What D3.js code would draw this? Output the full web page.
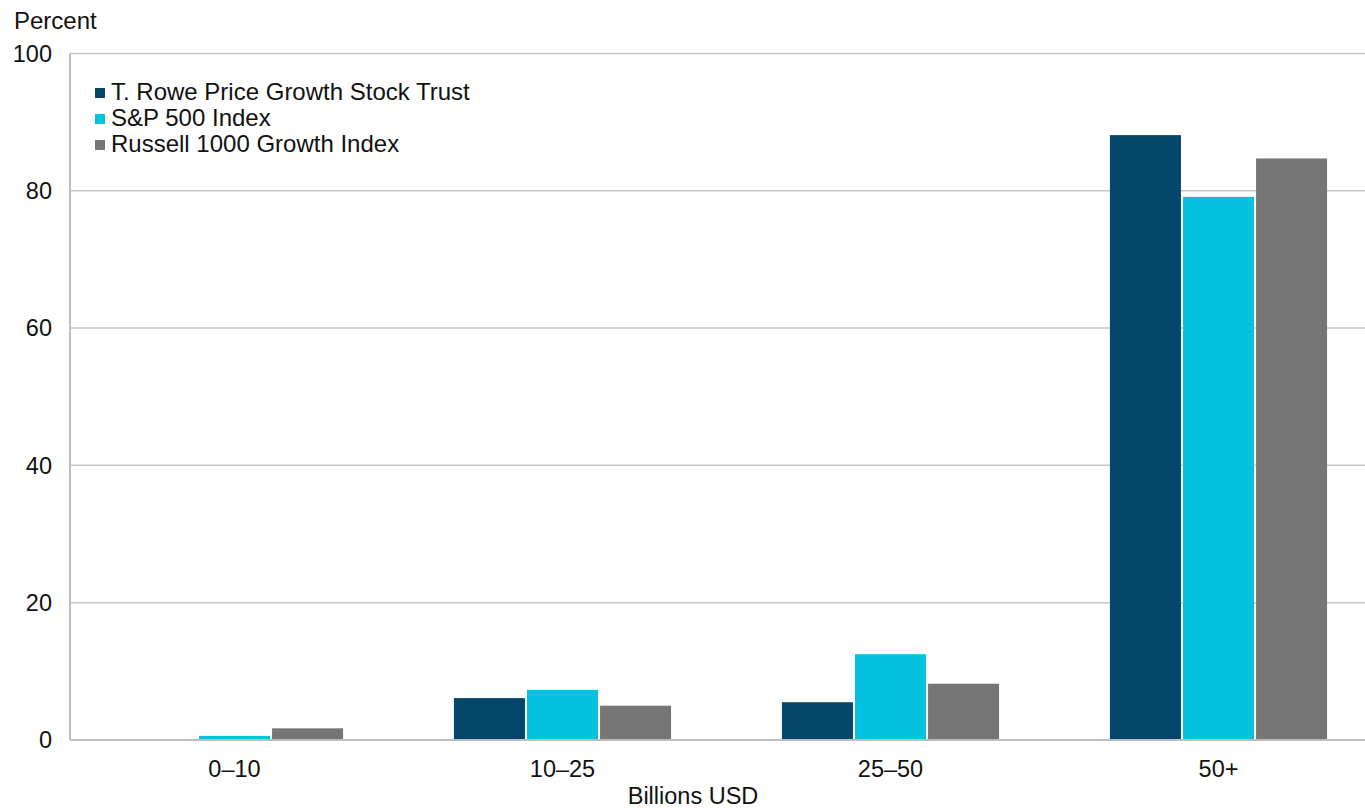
<!DOCTYPE html>
<html>
<head>
<meta charset="utf-8">
<script src="https://cdn.jsdelivr.net/npm/d3@7"></script>
<style>
  html, body { margin: 0; padding: 0; background: #ffffff; }
  svg { display: block; font-family: "Liberation Sans", Arial, sans-serif; }
</style>
</head>
<body>
<svg id="chart" width="1365" height="808"></svg>
<script>
const categories = ["0\u201310", "10\u201325", "25\u201350", "50+"];
const seriesNames = ["T. Rowe Price Growth Stock Trust", "S&P 500 Index", "Russell 1000 Growth Index"];
const troweValues = [0.1, 6.1, 5.5, 88.1];
const sp500Values = [0.6, 7.3, 12.5, 79.1];
const russellValues = [1.7, 5.0, 8.2, 84.7];
const yTicks = [0, 20, 40, 60, 80, 100];
const colors = ["#05476b", "#05c3de", "#767676"];

const seriesValues = [troweValues, sp500Values, russellValues];

const svg = d3.select("#chart");
const plotLeft = 70.5, plotRight = 1382.5, plotTop = 53.4, plotBottom = 740;
const fs = 23.5;

const x = d3.scaleBand().domain(categories).range([plotLeft, plotRight])
  .paddingInner(0.338).paddingOuter(0.169);
const xInner = d3.scaleBand().domain(d3.range(seriesNames.length))
  .range([0, x.bandwidth()]).paddingInner(0.028);
const y = d3.scaleLinear().domain([0, 100]).range([plotBottom, plotTop]);

// gridlines
svg.append("g").selectAll("line").data(yTicks.filter(d => d > 0)).join("line")
  .attr("x1", plotLeft).attr("x2", 1365)
  .attr("y1", d => y(d)).attr("y2", d => y(d))
  .attr("stroke", "#c6c6c6").attr("stroke-width", 1.5);

// y tick labels
svg.append("g").selectAll("text").data(yTicks).join("text")
  .attr("x", 52).attr("y", d => y(d)).attr("dy", "0.35em")
  .attr("text-anchor", "end").attr("font-size", fs).attr("fill", "#111")
  .text(d => d);

// bars
const groups = svg.append("g").selectAll("g").data(categories).join("g")
  .attr("transform", d => `translate(${x(d)},0)`);
groups.selectAll("rect").data((c, i) => seriesValues.map((s, k) => ({k, v: s[i]})))
  .join("rect")
  .attr("x", d => xInner(d.k)).attr("width", xInner.bandwidth())
  .attr("y", d => y(d.v)).attr("height", d => y(0) - y(d.v))
  .attr("fill", d => colors[d.k]);

// axes lines
svg.append("line").attr("x1", plotLeft).attr("x2", 1365).attr("y1", plotBottom).attr("y2", plotBottom)
  .attr("stroke", "#bdbdbd").attr("stroke-width", 2);
svg.append("line").attr("x1", plotLeft - 0.5).attr("x2", plotLeft - 0.5).attr("y1", plotTop).attr("y2", plotBottom)
  .attr("stroke", "#bdbdbd").attr("stroke-width", 2);

// category labels
svg.append("g").selectAll("text").data(categories).join("text")
  .attr("x", d => x(d) + x.bandwidth() / 2).attr("y", 777)
  .attr("text-anchor", "middle").attr("font-size", fs).attr("fill", "#111")
  .text(d => d);

// axis titles
svg.append("text").attr("x", 693).attr("y", 804).attr("text-anchor", "middle")
  .attr("font-size", fs).attr("fill", "#111").text("Billions USD");
svg.append("text").attr("x", 14).attr("y", 29)
  .attr("font-size", 24).attr("fill", "#111").text("Percent");

// legend
const legend = svg.append("g").selectAll("g").data(seriesNames).join("g")
  .attr("transform", (d, i) => `translate(95,${88 + i * 26})`);
legend.append("rect").attr("x", 0).attr("y", 0).attr("width", 10).attr("height", 10)
  .attr("fill", (d, i) => colors[i]);
legend.append("text").attr("x", 16).attr("y", 12)
  .attr("font-size", 24).attr("fill", "#111").text(d => d);
</script>
</body>
</html>
